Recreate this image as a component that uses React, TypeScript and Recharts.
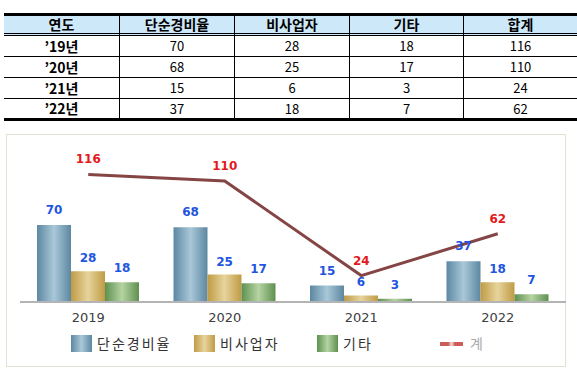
import React from 'react';
import { ComposedChart, Bar, Line, XAxis, YAxis, LabelList } from 'recharts';

// values
const tableHeaders = ['연도', '단순경비율', '비사업자', '기타', '합계'];
const tableYears = ['’19년', '’20년', '’21년', '’22년'];
const years = ['2019', '2020', '2021', '2022'];
const simpleRate = [70, 68, 15, 37];
const nonBusiness = [28, 25, 6, 18];
const others = [18, 17, 3, 7];
const totals = [116, 110, 24, 62];
const seriesNames = ['단순경비율', '비사업자', '기타', '계'];

const chartData = years.map((year, i) => ({
  year,
  simpleRate: simpleRate[i],
  nonBusiness: nonBusiness[i],
  others: others[i],
  total: totals[i],
}));

const KR = '"Noto Sans CJK KR", sans-serif';
const colW = [115, 115, 115, 114, 114];

const swatches = [
  'linear-gradient(90deg, #5d87a1, #a9c8d9 50%, #5d87a1)',
  'linear-gradient(90deg, #bf9b45, #e7d49c 50%, #bf9b45)',
  'linear-gradient(90deg, #5e9050, #b5d4a2 50%, #5e9050)',
];

const DataTable = () => (
  <table
    style={{
      position: 'absolute', left: 4, top: 13, width: 573,
      borderCollapse: 'separate', borderSpacing: 0, tableLayout: 'fixed',
      fontFamily: KR, color: '#000',
    }}
  >
    <colgroup>
      {colW.map((w, i) => <col key={i} style={{ width: w }} />)}
    </colgroup>
    <thead>
      <tr>
        {tableHeaders.map((h, i) => (
          <th
            key={h}
            style={{
              padding: 0, lineHeight: '17px', fontSize: 14, fontWeight: 'bold',
              background: '#cde8f8', borderTop: '3px solid #000', borderBottom: '3px double #000',
              borderLeft: i > 0 ? '1px solid #000' : 'none', textAlign: 'center',
            }}
          >
            {h}
          </th>
        ))}
      </tr>
    </thead>
    <tbody>
      {tableYears.map((y, r) => {
        const last = r === tableYears.length - 1;
        const cells = [y, simpleRate[r], nonBusiness[r], others[r], totals[r]];
        return (
          <tr key={y}>
            {cells.map((c, i) => (
              <td
                key={i}
                style={{
                  padding: 0, lineHeight: last ? '19px' : '20px',
                  fontSize: i === 0 ? 14 : 13, fontWeight: i === 0 ? 'bold' : 'normal',
                  borderBottom: last ? '3px solid #000' : '1px solid #000',
                  borderLeft: i > 0 ? '1px solid #000' : 'none', textAlign: 'center',
                }}
              >
                {c}
              </td>
            ))}
          </tr>
        );
      })}
    </tbody>
  </table>
);

const ChartLegend = () => (
  <div style={{ position: 'absolute', left: 71, top: 209, display: 'flex', fontFamily: KR }}>
    {seriesNames.map((name, i) => (
      <div key={name} style={{ width: 123, display: 'flex', alignItems: 'center', height: 18 }}>
        {i < 3 ? (
          <div style={{ width: 21, height: 17, background: swatches[i] }} />
        ) : (
          <div
            style={{
              width: 23, height: 4, marginTop: 1,
              background: 'linear-gradient(90deg, #cf5a5a 35%, #f1d8d8 50%, #cf5a5a 65%)',
            }}
          />
        )}
        <span
          style={{
            marginLeft: i < 3 ? 5 : 7, fontSize: 14, letterSpacing: 2,
            color: i < 3 ? '#333' : '#aaa',
          }}
        >
          {name}
        </span>
      </div>
    ))}
  </div>
);

export default function App() {
  return (
    <div style={{ position: 'absolute', left: 0, top: 0, width: 577, height: 370, background: '#fff', overflow: 'hidden' }}>
      <DataTable />
      <div style={{ position: 'absolute', left: 0, top: 125, width: 577, height: 245 }}>
        <div
          style={{
            position: 'absolute', left: 6, top: 9, width: 558, height: 231,
            border: '1px solid #dfe4d2',
          }}
        />
        <div style={{ position: 'absolute', left: 0, top: 0 }}>
          <ComposedChart
            width={577}
            height={245}
            data={chartData}
            margin={{ top: 23, right: 11, bottom: 38, left: 20 }}
            barGap={0}
          >
            <defs>
              <linearGradient id="gBlue" x1="0" y1="0" x2="1" y2="0">
                <stop offset="0%" stopColor="#5d87a1" />
                <stop offset="50%" stopColor="#a9c8d9" />
                <stop offset="100%" stopColor="#5d87a1" />
              </linearGradient>
              <linearGradient id="gGold" x1="0" y1="0" x2="1" y2="0">
                <stop offset="0%" stopColor="#bf9b45" />
                <stop offset="50%" stopColor="#e7d49c" />
                <stop offset="100%" stopColor="#bf9b45" />
              </linearGradient>
              <linearGradient id="gGreen" x1="0" y1="0" x2="1" y2="0">
                <stop offset="0%" stopColor="#5e9050" />
                <stop offset="50%" stopColor="#b5d4a2" />
                <stop offset="100%" stopColor="#5e9050" />
              </linearGradient>
            </defs>
            <XAxis
              dataKey="year"
              axisLine={{ stroke: '#b4b4b4', strokeWidth: 2 }}
              tickLine={false}
              tickMargin={5}
              tick={{ fill: '#404040', fontSize: 13, fontFamily: 'DejaVu Sans' }}
            />
            <YAxis hide domain={[0, 140]} />
            <Bar dataKey="simpleRate" name={seriesNames[0]} fill="url(#gBlue)" barSize={34} isAnimationActive={false}>
              <LabelList dataKey="simpleRate" position="top" offset={11} fill="#1f56e0" fontSize={12} fontWeight="bold" fontFamily="DejaVu Sans" />
            </Bar>
            <Bar dataKey="nonBusiness" name={seriesNames[1]} fill="url(#gGold)" barSize={34} isAnimationActive={false}>
              <LabelList dataKey="nonBusiness" position="top" offset={9} fill="#1f56e0" fontSize={12} fontWeight="bold" fontFamily="DejaVu Sans" />
            </Bar>
            <Bar dataKey="others" name={seriesNames[2]} fill="url(#gGreen)" barSize={34} isAnimationActive={false}>
              <LabelList dataKey="others" position="top" offset={10} fill="#1f56e0" fontSize={12} fontWeight="bold" fontFamily="DejaVu Sans" />
            </Bar>
            <Line
              type="linear"
              dataKey="total"
              name={seriesNames[3]}
              stroke="#854545"
              strokeWidth={3}
              dot={false}
              activeDot={false}
              isAnimationActive={false}
            >
              <LabelList dataKey="total" position="top" offset={11} fill="#e3191c" fontSize={12} fontWeight="bold" fontFamily="DejaVu Sans" />
            </Line>
          </ComposedChart>
        </div>
        <ChartLegend />
      </div>
    </div>
  );
}
